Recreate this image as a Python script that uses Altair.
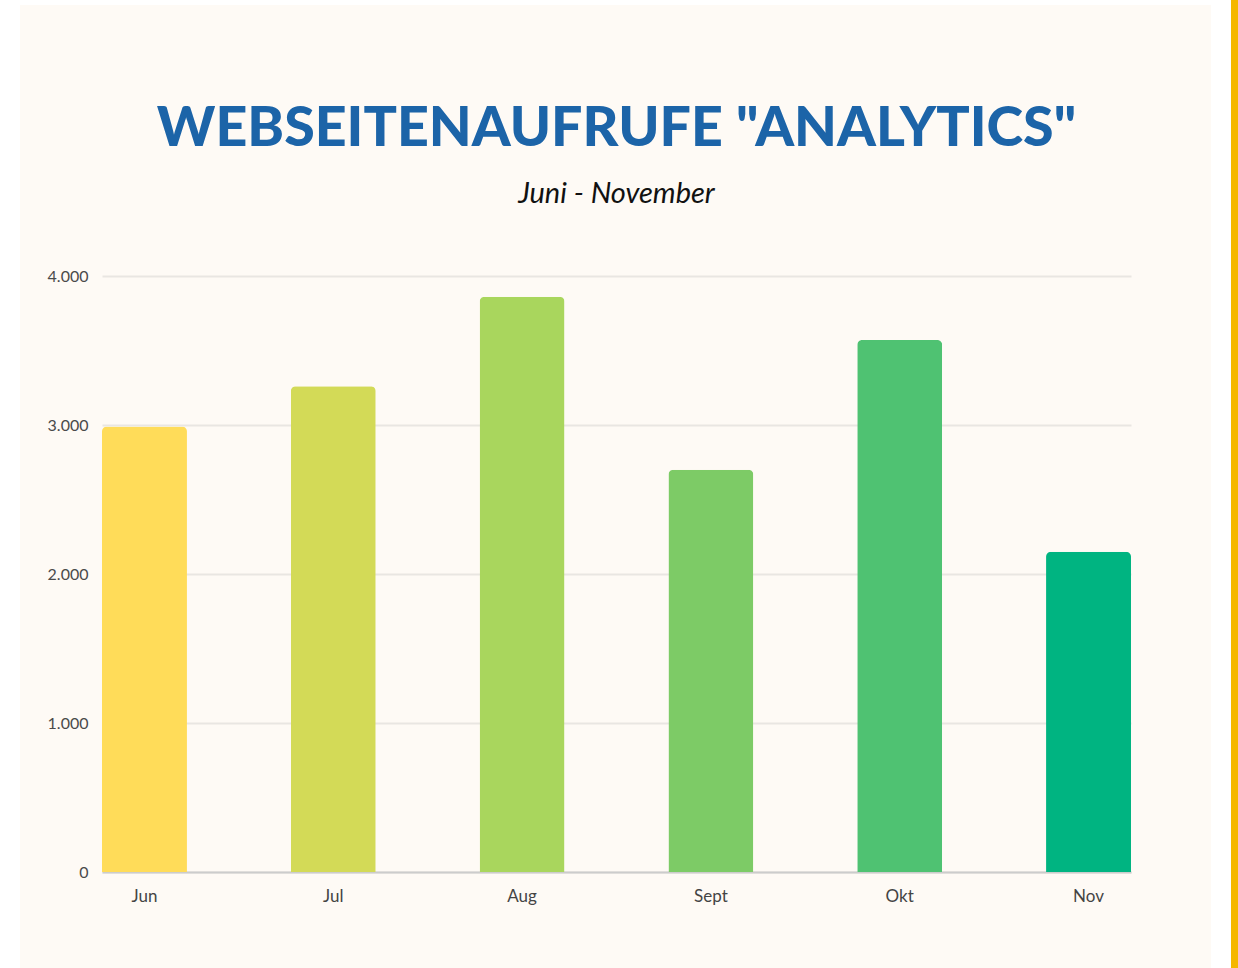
import altair as alt
import pandas as pd

months = ["Jun", "Jul", "Aug", "Sept", "Okt", "Nov"]
views = [2990, 3260, 3860, 2700, 3570, 2150]
colors = ["#FFDC59", "#D3DA57", "#A9D65D", "#7DCB66", "#4FC272", "#00B481"]
y_ticks = [0, 1000, 2000, 3000, 4000]

df = pd.DataFrame({"month": months, "views": views})

W, H = 1029, 596
PL, PT, PR, PB = 102, 276, 107, 96

bars = alt.Chart(df).mark_bar(
    cornerRadiusTopLeft=5, cornerRadiusTopRight=5
).encode(
    x=alt.X("month:N", sort=months, title=None,
            scale=alt.Scale(paddingInner=0.55, paddingOuter=0),
            axis=alt.Axis(labelAngle=0, ticks=False, labelPadding=16,
                          labelFontSize=17, labelColor="#444444", labelFont="Lato",
                          domainColor="#CCCCCC", domainWidth=2, grid=False)),
    y=alt.Y("views:Q", title=None,
            scale=alt.Scale(domain=[0, 4000], nice=False),
            axis=alt.Axis(values=y_ticks, ticks=False, domain=False, labelPadding=14,
                          labelFontSize=16, labelColor="#4A4A4A", labelFont="Lato",
                          labelExpr="replace(format(datum.value, ','), ',', '.')",
                          gridColor="#E9E6E2", gridWidth=2)),
    color=alt.Color("month:N", sort=months,
                    scale=alt.Scale(domain=months, range=colors), legend=None),
)

deco_df = pd.DataFrame({"k": [0]})
white_left = alt.Chart(deco_df).mark_rect(color="white").encode(
    x=alt.value(-PL), x2=alt.value(-PL + 20), y=alt.value(-PT), y2=alt.value(H + PB))
white_top = alt.Chart(deco_df).mark_rect(color="white").encode(
    x=alt.value(-PL), x2=alt.value(W + PR), y=alt.value(-PT), y2=alt.value(-PT + 5))
white_right = alt.Chart(deco_df).mark_rect(color="white").encode(
    x=alt.value(1211 - PL), x2=alt.value(1231 - PL), y=alt.value(-PT), y2=alt.value(H + PB))
orange = alt.Chart(deco_df).mark_rect(color="#F5B700").encode(
    x=alt.value(1231 - PL), x2=alt.value(1238 - PL), y=alt.value(-PT), y2=alt.value(H + PB))

chart = alt.layer(bars, white_left, white_top, white_right, orange).properties(
    width=W, height=H,
    padding={"left": PL, "top": PT, "right": PR, "bottom": PB},
    autosize=alt.AutoSizeParams(type="none"),
    background="#FEFAF5",
    title=alt.TitleParams(
        text='WEBSEITENAUFRUFE "ANALYTICS"',
        subtitle="Juni - November",
        anchor="middle",
        font="Lato",
        fontSize=55.5, fontWeight=900, color="#1C64A8",
        subtitleFont="Lato", subtitleFontSize=29, subtitleFontStyle="italic",
        subtitleColor="#111111", subtitlePadding=23,
        offset=-209,
    ),
).configure_view(stroke=None)

chart.save("out.html", embed_options={"renderer": "svg", "actions": False})
